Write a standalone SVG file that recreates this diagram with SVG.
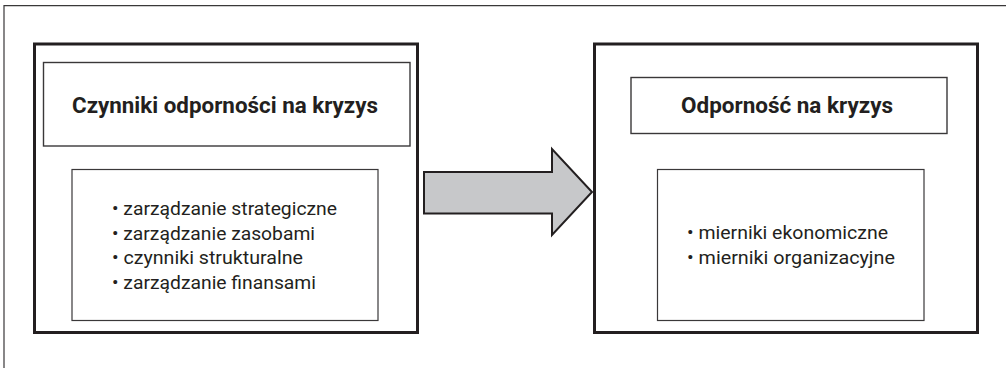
<svg xmlns="http://www.w3.org/2000/svg" width="1006" height="368" viewBox="0 0 1006 368">
  <style>
    .frame { fill: none; stroke: #3a3839; stroke-width: 1.2; }
    .outer { fill: #ffffff; stroke: #231f20; stroke-width: 3; }
    .head { fill: #ffffff; stroke: #3a3839; stroke-width: 1.4; }
    .list { fill: #ffffff; stroke: #3a3839; stroke-width: 1.2; }
    .title { font-family: Roboto, "Liberation Sans", sans-serif; font-weight: bold; font-size: 22px; fill: #231f20; text-anchor: middle; }
    .item { font-family: Roboto, "Liberation Sans", sans-serif; font-size: 19px; fill: #231f20; }
    .arrow { fill: #c7c8ca; stroke: #231f20; stroke-width: 2; stroke-linejoin: miter; }
  </style>
  <rect width="1006" height="368" fill="#ffffff"/>

  <!-- page frame: top and left rules only -->
  <path class="frame" d="M4,368 V5.6 H1006"/>

  <!-- left block: factors -->
  <g id="factors">
    <rect class="outer" x="34.5" y="44" width="383" height="288.5"/>
    <rect class="head" x="43.5" y="62.5" width="366.5" height="83.5"/>
    <text class="title" x="225" y="113" textLength="306" lengthAdjust="spacingAndGlyphs">Czynniki odporności na kryzys</text>
    <rect class="list" x="72" y="169.5" width="306" height="151"/>
    <text class="item" x="112" y="215" textLength="225" lengthAdjust="spacingAndGlyphs">• zarządzanie strategiczne</text>
    <text class="item" x="112" y="239.7" textLength="203" lengthAdjust="spacingAndGlyphs">• zarządzanie zasobami</text>
    <text class="item" x="112" y="264.4" textLength="191" lengthAdjust="spacingAndGlyphs">• czynniki strukturalne</text>
    <text class="item" x="112" y="289" textLength="204" lengthAdjust="spacingAndGlyphs">• zarządzanie finansami</text>
  </g>

  <!-- right block: resilience -->
  <g id="resilience">
    <rect class="outer" x="594.5" y="44" width="383" height="288.5"/>
    <rect class="head" x="631" y="77.5" width="316" height="56"/>
    <text class="title" x="787" y="113" textLength="212" lengthAdjust="spacingAndGlyphs">Odporność na kryzys</text>
    <rect class="list" x="657.5" y="169.5" width="266.5" height="151"/>
    <text class="item" x="687" y="238.5" textLength="201" lengthAdjust="spacingAndGlyphs">• mierniki ekonomiczne</text>
    <text class="item" x="687" y="263.5" textLength="208" lengthAdjust="spacingAndGlyphs">• mierniki organizacyjne</text>
  </g>

  <!-- connector: block arrow -->
  <g id="connectors">
    <path class="arrow" d="M424,172 H552 V149 L592,192 L552,235 V213.5 H424 Z"/>
  </g>
</svg>
